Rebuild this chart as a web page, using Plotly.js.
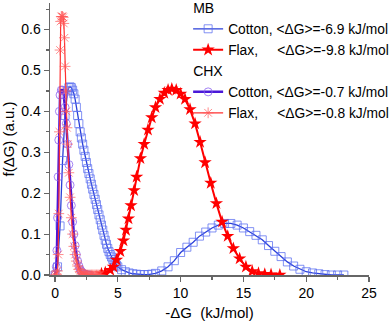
<!DOCTYPE html>
<html>
<head>
<meta charset="utf-8">
<script src="https://cdn.plot.ly/plotly-3.0.1.min.js"></script>
<style>
  html, body { margin: 0; padding: 0; background: #fff; }
  #chart { width: 392px; height: 321px; }
</style>
</head>
<body>
<div id="chart"></div>
<script>
// MB, cotton (open squares)
const mbCottonX = [0, 0.2, 0.4, 0.6, 0.8, 1.0, 1.1, 1.2, 1.3, 1.4, 1.5, 1.6, 1.7, 1.8, 1.9, 2.0,
  2.1, 2.2, 2.3, 2.4, 2.5, 2.6, 2.7, 2.8, 2.9, 3.0, 3.1, 3.2, 3.3, 3.4, 3.5, 3.6, 3.7, 3.8, 3.9, 4.0,
  4.1, 4.2, 4.3, 4.4, 4.5, 4.6, 4.7, 4.8, 4.9, 5.0, 5.3, 5.6, 5.9, 6.2, 6.5, 6.8, 7.1, 7.4, 7.7, 8.0,
  8.5, 9.0, 9.5, 10.0, 10.5, 11.0, 11.5, 12.0, 12.5, 13.0, 13.5, 14.0, 14.5, 15.0, 15.5, 16.0, 16.5,
  17.0, 17.5, 18.0, 18.5, 19.0, 19.5, 20.0, 20.5, 21.0, 21.5, 22.0, 22.5, 23.0];
const mbCottonY = [0, 0.02, 0.12, 0.28, 0.39, 0.45, 0.458, 0.46, 0.458, 0.452, 0.443, 0.43, 0.41, 0.39, 0.37, 0.35,
  0.335, 0.32, 0.305, 0.29, 0.275, 0.26, 0.248, 0.235, 0.222, 0.21, 0.197, 0.185, 0.172, 0.16, 0.147, 0.135, 0.122, 0.11, 0.097, 0.085,
  0.075, 0.065, 0.057, 0.05, 0.044, 0.038, 0.033, 0.028, 0.024, 0.02, 0.013, 0.008, 0.005, 0.003, 0.002, 0.001, 0.001, 0.001, 0.002, 0.004,
  0.01, 0.02, 0.035, 0.055, 0.068, 0.08, 0.095, 0.105, 0.115, 0.122, 0.126, 0.126, 0.122, 0.115, 0.106, 0.097, 0.086,
  0.072, 0.058, 0.045, 0.032, 0.022, 0.014, 0.008, 0.005, 0.003, 0.001, 0, 0, 0];

// MB, flax (stars)
const mbFlaxX = [3.7, 4.0, 4.4, 4.65, 4.9, 5.2, 5.45, 5.65, 5.85, 6.05, 6.3, 6.5, 6.8, 7.1, 7.4, 7.7, 8.0,
  8.35, 8.7, 9.0, 9.3, 9.65, 10.0, 10.35, 10.75, 11.15, 11.55, 11.95, 12.4, 12.85, 13.3, 13.75, 14.2,
  14.7, 15.2, 15.7, 16.2, 16.7, 17.2, 17.9];
const mbFlaxY = [0.003, 0.006, 0.012, 0.02, 0.037, 0.058, 0.084, 0.11, 0.138, 0.17, 0.207, 0.24, 0.285, 0.32, 0.355, 0.385, 0.41,
  0.43, 0.445, 0.452, 0.455, 0.452, 0.443, 0.43, 0.405, 0.37, 0.325, 0.275, 0.225, 0.175, 0.13, 0.095, 0.065,
  0.04, 0.02, 0.009, 0.004, 0.002, 0.001, 0];

// CHX, cotton (circles)
const chxCottonX = [0, 0.1, 0.15, 0.2, 0.25, 0.3, 0.35, 0.4, 0.5, 0.6, 0.7, 0.8, 0.9, 1.0, 1.1, 1.2, 1.3, 1.4, 1.5,
  1.6, 1.7, 1.8, 1.9, 2.0, 2.1, 2.2, 2.3, 2.4, 2.5, 2.6, 2.7, 2.8];
const chxCottonY = [0, 0.02, 0.06, 0.14, 0.24, 0.33, 0.4, 0.44, 0.452, 0.452, 0.44, 0.41, 0.37, 0.32, 0.27, 0.22, 0.17, 0.13, 0.1,
  0.072, 0.05, 0.034, 0.022, 0.014, 0.009, 0.005, 0.003, 0.002, 0.001, 0, 0, 0];

// CHX, flax (asterisks)
const chxFlaxX = [0, 0.1, 0.2, 0.25, 0.3, 0.35, 0.4, 0.45, 0.5, 0.55, 0.6, 0.65, 0.7, 0.75, 0.8, 0.85, 0.9, 0.95,
  1.0, 1.1, 1.2, 1.3, 1.4, 1.5, 1.6, 1.7, 1.8, 1.9, 2.0, 2.1, 2.2, 2.3, 2.4, 2.5, 2.6, 2.7, 2.8, 2.9,
  3.0, 3.1, 3.2, 3.3, 3.4, 3.5, 3.6];
const chxFlaxY = [0, 0.002, 0.01, 0.05, 0.15, 0.35, 0.55, 0.62, 0.632, 0.632, 0.632, 0.63, 0.615, 0.58, 0.51, 0.45, 0.4, 0.36,
  0.32, 0.25, 0.19, 0.14, 0.1, 0.07, 0.05, 0.034, 0.022, 0.014, 0.009, 0.005, 0.003, 0.002, 0.001, 0, 0, 0, 0, 0,
  0, 0, 0, 0, 0, 0, 0];

const sp = '\u00A0';
const labels = [
  'Cotton, &lt;ΔG&gt;=-6.9 kJ/mol',
  'Flax,' + sp.repeat(4) + ' &lt;ΔG&gt;=-9.8 kJ/mol',
  'Cotton, &lt;ΔG&gt;=-0.7 kJ/mol',
  'Flax,' + sp.repeat(4) + ' &lt;ΔG&gt;=-0.8 kJ/mol'
];

const font = 'Liberation Sans, Arial, sans-serif';

const traces = [
  {
    x: mbCottonX, y: mbCottonY, name: labels[0], type: 'scatter', mode: 'lines+markers',
    legendgroup: 'mb', legendgrouptitle: {text: 'MB', font: {size: 14, family: font}},
    line: {color: '#2a3fd8', width: 1.3},
    marker: {symbol: 'square-open', size: 8, color: 'rgba(90,110,240,0.75)', line: {width: 1}}
  },
  {
    x: mbFlaxX, y: mbFlaxY, name: labels[1], type: 'scatter', mode: 'lines+markers',
    legendgroup: 'mb',
    line: {color: '#ff0000', width: 2},
    marker: {symbol: 'star', size: 10, color: '#ff0000'}
  },
  {
    x: chxCottonX, y: chxCottonY, name: labels[2], type: 'scatter', mode: 'lines+markers',
    legendgroup: 'chx', legendgrouptitle: {text: 'CHX', font: {size: 14, family: font}},
    line: {color: '#4a18d8', width: 2.5},
    marker: {symbol: 'circle-open', size: 8, color: 'rgba(140,100,240,0.8)', line: {width: 1}}
  },
  {
    x: chxFlaxX, y: chxFlaxY, name: labels[3], type: 'scatter', mode: 'lines+markers',
    legendgroup: 'chx',
    line: {color: '#ff3030', width: 1.2},
    marker: {symbol: 'asterisk-open', size: 9, color: 'rgba(255,90,90,0.7)', line: {width: 1}}
  }
];

const layout = {
  width: 392, height: 321,
  margin: {l: 50, r: 23, t: 3, b: 46, autoexpand: false},
  paper_bgcolor: '#fff', plot_bgcolor: '#fff',
  font: {family: font, size: 14, color: '#000'},
  showlegend: true,
  legend: {
    x: 0.433, y: 1.04, xanchor: 'left', yanchor: 'top',
    bgcolor: 'rgba(0,0,0,0)', tracegroupgap: 0,
    font: {size: 13.8, family: font}, itemwidth: 30
  },
  xaxis: {
    range: [-0.4, 25], dtick: 5, tick0: 0,
    showgrid: false, zeroline: false, showline: true,
    linecolor: '#666', linewidth: 1.5,
    ticks: 'outside', ticklen: 5, tickcolor: '#666', tickwidth: 1.2,
    minor: {dtick: 2.5, ticks: 'outside', ticklen: 3, tickcolor: '#666'},
    tickfont: {size: 14},
    title: {text: '-ΔG' + sp + sp + '(kJ/mol)', font: {size: 15}, standoff: 10}
  },
  yaxis: {
    range: [0, 0.665], dtick: 0.1, tick0: 0, tickformat: '.1f',
    showgrid: false, zeroline: false, showline: true,
    linecolor: '#666', linewidth: 1.5,
    ticks: 'outside', ticklen: 5, tickcolor: '#666', tickwidth: 1.2,
    minor: {dtick: 0.05, ticks: 'outside', ticklen: 3, tickcolor: '#666'},
    tickfont: {size: 14},
    title: {text: 'f(ΔG)' + sp + '(a.u.)', font: {size: 15}, standoff: 4}
  }
};

Plotly.newPlot('chart', traces, layout, {displayModeBar: false, staticPlot: true});
</script>
</body>
</html>
